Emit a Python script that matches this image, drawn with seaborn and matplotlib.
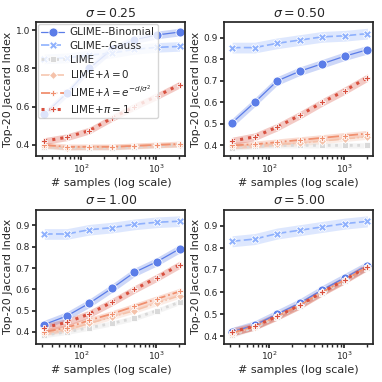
import numpy as np
import pandas as pd
import matplotlib.pyplot as plt
import seaborn as sns

# sample sizes
n_samples = [32, 64, 128, 256, 512, 1024, 2048]
sigmas = ["0.25", "0.50", "1.00", "5.00"]
methods = ["GLIME--Binomial", "GLIME--Gauss", "LIME", "LIME+$\\lambda=0$",
           "LIME+$\\lambda=e^{-d/\\sigma^2}$", "LIME+$\\pi=1$"]

# mean jaccard, one list per method per sigma
binomial = {
    "0.25": [0.56, 0.67, 0.80, 0.90, 0.95, 0.975, 0.99],
    "0.50": [0.505, 0.60, 0.70, 0.745, 0.78, 0.815, 0.845],
    "1.00": [0.435, 0.475, 0.535, 0.605, 0.68, 0.73, 0.79],
    "5.00": [0.42, 0.45, 0.50, 0.55, 0.61, 0.665, 0.72],
}
gauss = {
    "0.25": [0.85, 0.855, 0.87, 0.88, 0.90, 0.91, 0.915],
    "0.50": [0.855, 0.855, 0.875, 0.89, 0.905, 0.91, 0.92],
    "1.00": [0.86, 0.86, 0.88, 0.89, 0.905, 0.915, 0.92],
    "5.00": [0.83, 0.84, 0.865, 0.88, 0.895, 0.91, 0.92],
}
lime = {
    "0.25": [0.39, 0.385, 0.385, 0.385, 0.39, 0.395, 0.40],
    "0.50": [0.39, 0.395, 0.40, 0.40, 0.40, 0.40, 0.40],
    "1.00": [0.385, 0.40, 0.42, 0.44, 0.465, 0.50, 0.54],
    "5.00": [0.405, 0.44, 0.485, 0.535, 0.595, 0.65, 0.71],
}
lime_l0 = {
    "0.25": [0.395, 0.385, 0.39, 0.39, 0.395, 0.40, 0.40],
    "0.50": [0.395, 0.40, 0.405, 0.41, 0.42, 0.43, 0.44],
    "1.00": [0.395, 0.41, 0.44, 0.47, 0.50, 0.535, 0.57],
    "5.00": [0.41, 0.44, 0.49, 0.54, 0.60, 0.655, 0.715],
}
lime_le = {
    "0.25": [0.40, 0.39, 0.39, 0.39, 0.395, 0.40, 0.405],
    "0.50": [0.40, 0.405, 0.415, 0.425, 0.435, 0.445, 0.455],
    "1.00": [0.40, 0.42, 0.455, 0.485, 0.52, 0.555, 0.59],
    "5.00": [0.415, 0.445, 0.49, 0.54, 0.60, 0.655, 0.715],
}
lime_pi = {
    "0.25": [0.42, 0.44, 0.475, 0.54, 0.60, 0.655, 0.715],
    "0.50": [0.42, 0.44, 0.485, 0.54, 0.60, 0.655, 0.715],
    "1.00": [0.42, 0.445, 0.485, 0.54, 0.60, 0.655, 0.715],
    "5.00": [0.42, 0.445, 0.49, 0.54, 0.60, 0.655, 0.715],
}
# approx half-width of shaded bands
band = [0.02, 0.025, 0.012, 0.012, 0.015, 0.018]

colors = ["#5b7de8", "#8fb1fd", "#d9d9d9", "#f5c2aa", "#f0906f", "#d8503f"]
markers = ["o", "X", "s", "D", "P", "P"]
linestyles = ["-", (0, (5, 2)), ":", "-.", "-.", ":"]
msizes = [6.5, 5.5, 4.5, 4.5, 5, 5]
lwidths = [0.9, 1.2, 2.0, 1.1, 1.3, 2.2]

rows = []
for s in sigmas:
    for m, d in zip(methods, [binomial, gauss, lime, lime_l0, lime_le, lime_pi]):
        for n, v in zip(n_samples, d[s]):
            rows.append({"sigma": s, "method": m, "n": n, "jac": v})
df = pd.DataFrame(rows)

sns.set_theme(style="ticks")
plt.rcParams["font.family"] = ["DejaVu Sans"]

fig, axes = plt.subplots(2, 2, figsize=(3.82, 3.82), dpi=100)
fig.subplots_adjust(left=0.095, right=0.977, top=0.942, bottom=0.1,
                    wspace=0.26, hspace=0.4)

for ax, s in zip(axes.flat, sigmas):
    for i, m in enumerate(methods):
        sub = df[(df.sigma == s) & (df.method == m)]
        ax.fill_between(sub.n, sub.jac - band[i], sub.jac + band[i],
                        color=colors[i], alpha=0.3, lw=0)
        sns.lineplot(x=sub.n, y=sub.jac, ax=ax, color=colors[i],
                     marker=markers[i], markersize=msizes[i], lw=lwidths[i],
                     linestyle=linestyles[i], markeredgecolor="white",
                     markeredgewidth=0.6, label=m, legend=False)
    ax.set_xscale("log")
    ax.set_xlim(25, 2450)
    ax.set_title(f"$\\sigma = {s}$", fontsize=9, pad=4)
    ax.set_xlabel("# samples (log scale)", fontsize=8, labelpad=2)
    ax.set_ylabel("Top-20 Jaccard Index", fontsize=8, labelpad=2)
    ax.tick_params(labelsize=6.5, length=3, pad=1.5)
    ax.tick_params(which="minor", length=2)

axes[0, 0].legend(loc="upper left", fontsize=7.5, handlelength=2.2,
                  borderpad=0.3, labelspacing=0.35, handletextpad=0.5,
                  borderaxespad=0.2)

fig.savefig("out.png", dpi=100)
